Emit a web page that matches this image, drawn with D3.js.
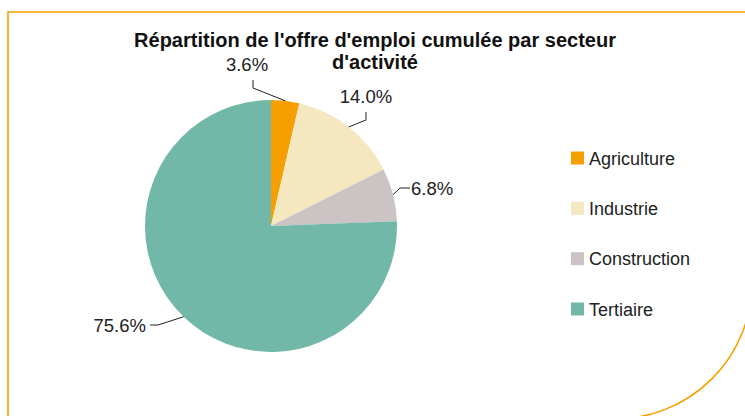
<!DOCTYPE html>
<html>
<head>
<meta charset="utf-8">
<script src="https://cdn.jsdelivr.net/npm/d3@7"></script>
<style>
  body { margin: 0; background: #fff; }
  svg { display: block; }
</style>
</head>
<body>
<div id="chart"></div>
<script>
// chart data
const sectors = ["Agriculture", "Industrie", "Construction", "Tertiaire"];
const shares = [3.6, 14.0, 6.8, 75.6];
const colors = ["#F5A000", "#F5E7BF", "#CCC4C4", "#72B8A8"];
const titleLines = ["Répartition de l'offre d'emploi cumulée par secteur", "d'activité"];

const width = 745
const height = 416

// label placement relative to pie centre (layout only)
const labelLayout = [
  { elbow: [-18, -138], end: [-18, -146], text: [-24, -155], anchor: "middle" },
  { elbow: [95, -106], end: [95, -114], text: [95, -123], anchor: "middle" },
  { elbow: [129, -38], end: [139, -38], text: [140, -31], anchor: "start" },
  { elbow: [-113, 99], end: [-121, 99], text: [-125, 106], anchor: "end" }
];

const svg = d3.select("#chart")
  .append("svg")
  .attr("width", width)
  .attr("height", height)

// orange frame with big rounded bottom-right corner
svg.append("path")
  .attr("d", "M8,430 L8,12 L752,12 L752,282 A137,137 0 0 1 615,419 L8,419")
  .attr("fill", "none")
  .attr("stroke", "#F5A000")
  .attr("stroke-width", 1.6)

// title
svg.append("text")
  .attr("text-anchor", "middle")
  .attr("font-family", "Liberation Sans, Arial, sans-serif")
  .attr("font-weight", "bold")
  .attr("font-size", "20px")
  .attr("fill", "#111")
  .selectAll("tspan")
  .data(titleLines)
  .enter()
  .append("tspan")
  .attr("x", 375)
  .attr("y", (d, i) => 47 + i * 22)
  .text(d => d)

const cx = 271, cy = 226, radius = 126;

const g = svg.append("g").attr("transform", "translate(" + cx + "," + cy + ")");

const color = d3.scaleOrdinal().domain(sectors).range(colors);

const pie = d3.pie().sort(null).value(d => d.value);
const arcData = pie(sectors.map((s, i) => ({ name: s, value: shares[i] })));

const arc = d3.arc().innerRadius(0).outerRadius(radius);

g.selectAll("path.slice")
  .data(arcData)
  .enter()
  .append("path")
  .attr("class", "slice")
  .attr("fill", d => color(d.data.name))
  .attr("d", arc)

// leader lines + labels
const edgePoint = d => {
  const a = (d.startAngle + d.endAngle) / 2;
  return [Math.sin(a) * radius, -Math.cos(a) * radius];
};

g.selectAll("polyline.leader")
  .data(arcData)
  .enter()
  .append("polyline")
  .attr("class", "leader")
  .attr("fill", "none")
  .attr("stroke", "#222")
  .attr("stroke-width", 1)
  .attr("points", (d, i) => [edgePoint(d), labelLayout[i].elbow, labelLayout[i].end].map(p => p.join(",")).join(" "))

g.selectAll("text.pct")
  .data(arcData)
  .enter()
  .append("text")
  .attr("class", "pct")
  .attr("x", (d, i) => labelLayout[i].text[0])
  .attr("y", (d, i) => labelLayout[i].text[1])
  .attr("text-anchor", (d, i) => labelLayout[i].anchor)
  .attr("font-family", "Liberation Sans, Arial, sans-serif")
  .attr("font-size", "18.5px")
  .attr("fill", "#222")
  .text(d => d3.format(".1f")(d.data.value) + "%")

// legend
const legendY = d3.scalePoint().domain(sectors).range([158, 309]);

const legend = svg.append("g")
  .selectAll("g")
  .data(sectors)
  .enter()
  .append("g")
  .attr("transform", d => "translate(571," + legendY(d) + ")")

legend.append("rect")
  .attr("x", 0)
  .attr("y", -6.5)
  .attr("width", 13)
  .attr("height", 13)
  .attr("fill", d => color(d))

legend.append("text")
  .attr("x", 18)
  .attr("y", 6.5)
  .attr("font-family", "Liberation Sans, Arial, sans-serif")
  .attr("font-size", "18px")
  .attr("fill", "#222")
  .text(d => d)
</script>
</body>
</html>
